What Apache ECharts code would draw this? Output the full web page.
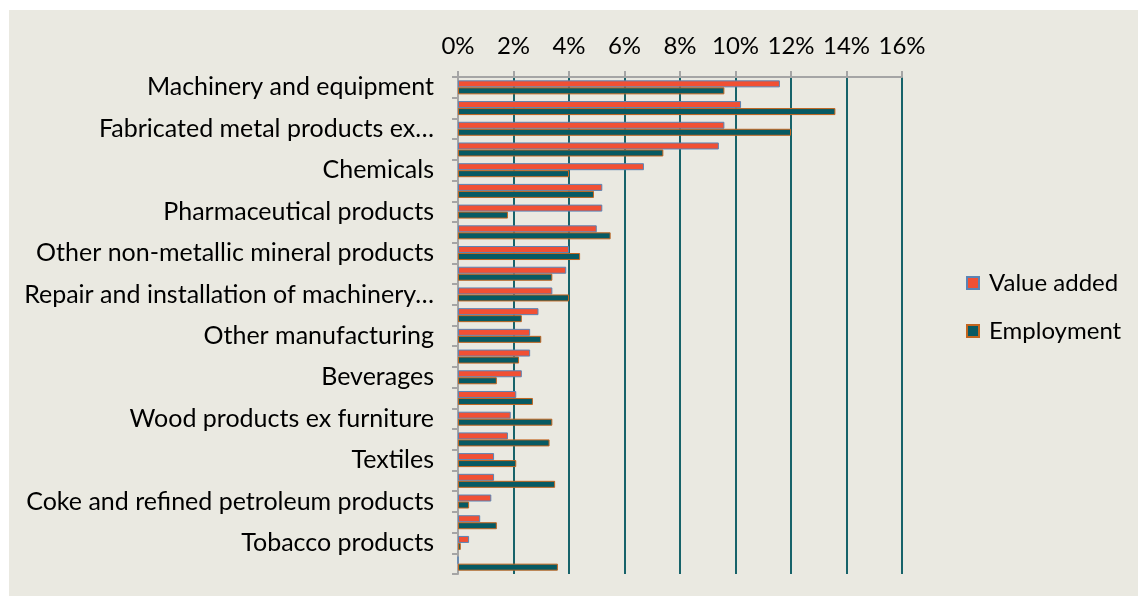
<!DOCTYPE html>
<html>
<head>
<meta charset="utf-8">
<script src="https://cdn.jsdelivr.net/npm/echarts@6/dist/echarts.min.js"></script>
<style>
    html, body { margin: 0; padding: 0; background: #fff; }
    #chart { width: 1138px; height: 596px; }
</style>
</head>
<body>
<div id="chart"></div>
<script>
// 类目（每隔一个显示标签）
let categories = [
    "Machinery and equipment",
    "Food products",
    "Fabricated metal products ex…",
    "Motor vehicles, trailers and semi-trailers",
    "Chemicals",
    "Rubber and plastics products",
    "Pharmaceutical products",
    "Electrical equipment",
    "Other non-metallic mineral products",
    "Basic metals",
    "Repair and installation of machinery…",
    "Computer, electronic and optical products",
    "Other manufacturing",
    "Printing and reproduction of recorded media",
    "Beverages",
    "Paper and paper products",
    "Wood products ex furniture",
    "Furniture",
    "Textiles",
    "Other transport equipment",
    "Coke and refined petroleum products",
    "Leather and related products",
    "Tobacco products",
    "Wearing apparel"
];

// 数值（%）
let valueAdded = [11.6, 10.2, 9.6, 9.4, 6.7, 5.2, 5.2, 5.0, 4.0, 3.9, 3.4, 2.9,
    2.6, 2.6, 2.3, 2.1, 1.9, 1.8, 1.3, 1.3, 1.2, 0.8, 0.4, 0];
let employment = [9.6, 13.6, 12.0, 7.4, 4.0, 4.9, 1.8, 5.5, 4.4, 3.4, 4.0, 2.3,
    3.0, 2.2, 1.4, 2.7, 3.4, 3.3, 2.1, 3.5, 0.4, 1.4, 0.1, 3.6];

let xTicks = { min: 0, max: 16, interval: 2 };

let font = "Lato, 'Noto Sans', sans-serif";

let chart = echarts.init(document.getElementById('chart'), null, { renderer: 'canvas' });

chart.setOption({
    backgroundColor: '#ffffff',
    animation: false,
    textStyle: { fontFamily: font },
    graphic: [{
        type: 'rect',
        z: -10,
        silent: true,
        shape: { x: 9, y: 10, width: 1129, height: 586 },
        style: { fill: '#eae9e1' }
    }],
    legend: {
        orient: 'vertical',
        left: 961,
        top: 266,
        itemWidth: 12,
        itemHeight: 12,
        itemGap: 24,
        icon: 'rect',
        textStyle: { fontSize: 24, color: '#000', fontFamily: font, padding: [0, 0, 0, 5] },
        data: ['Value added', 'Employment']
    },
    grid: { left: 458, right: 236, top: 77, bottom: 22 },
    xAxis: {
        type: 'value',
        position: 'top',
        min: xTicks.min,
        max: xTicks.max,
        interval: xTicks.interval,
        axisLine: { show: true, lineStyle: { color: '#a5a5a5', width: 2 } },
        axisTick: { show: true, length: 6, lineStyle: { color: '#a5a5a5', width: 2 } },
        axisLabel: {
            formatter: '{value}%',
            fontSize: 24,
            color: '#000',
            margin: 19,
            fontFamily: font
        },
        splitLine: {
            show: true,
            showMinLine: false,
            lineStyle: { color: '#17636a', width: 2 }
        }
    },
    yAxis: {
        type: 'category',
        inverse: true,
        data: categories,
        axisLine: { show: true, lineStyle: { color: '#a5a5a5', width: 2 } },
        axisTick: { show: true, interval: 0, length: 6, lineStyle: { color: '#a5a5a5', width: 2 } },
        axisLabel: {
            interval: 1,
            fontSize: 25,
            color: '#000',
            margin: 24,
            fontFamily: font
        }
    },
    series: [
        {
            name: 'Value added',
            type: 'bar',
            data: valueAdded,
            barWidth: 7,
            barGap: '0%',
            itemStyle: { color: '#f15034', borderColor: '#5a84b5', borderWidth: 1 }
        },
        {
            name: 'Employment',
            type: 'bar',
            data: employment,
            barWidth: 7,
            barGap: '0%',
            itemStyle: { color: '#075a63', borderColor: '#c2651f', borderWidth: 1 }
        }
    ]
});
</script>
</body>
</html>
